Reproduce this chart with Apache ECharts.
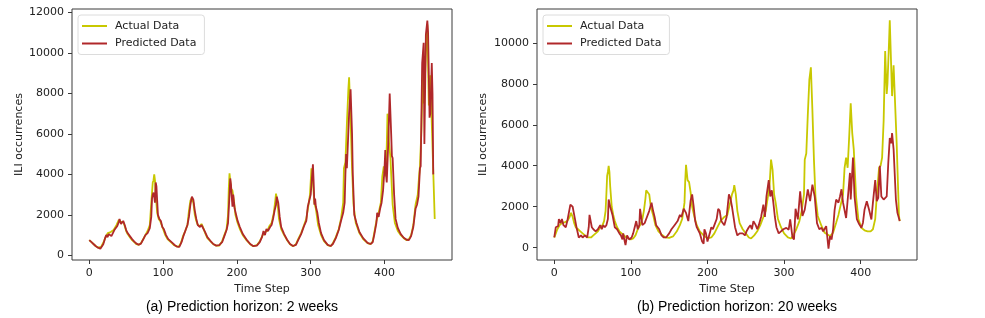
<!DOCTYPE html>
<html>
<head>
<meta charset="utf-8">
<script src="https://cdn.jsdelivr.net/npm/echarts@6/dist/echarts.min.js"></script>
<style>
html,body{margin:0;padding:0;background:#fff;}
#chart{width:985px;height:318px;}
</style>
</head>
<body>
<div id="chart"></div>
<script>
// ---------- data ----------
const seriesNames = ['Actual Data', 'Predicted Data'];
const captions = ['(a) Prediction horizon: 2 weeks', '(b) Prediction horizon: 20 weeks'];
const xAxisTitle = 'Time Step';
const yAxisTitle = 'ILI occurrences';
const xTicks = [0, 100, 200, 300, 400];
const yTicks2w = [0, 2000, 4000, 6000, 8000, 10000, 12000];
const yTicks20w = [0, 2000, 4000, 6000, 8000, 10000];

// [time step, ILI occurrences]
const actual2w = [[0,750],[3,650],[6,550],[9,450],[12,380],[14,350],[16,420],[18,500],[20,700],[22,900],[25,1100],[27,1050],[29,1150],[31,1100],[33,1250],[35,1300],[37,1500],[40,1750],[42,1650],[44,1600],[46,1650],[48,1450],[50,1200],[52,1050],[55,900],[58,750],[61,650],[64,550],[67,520],[70,600],[73,800],[76,1000],[79,1200],[82,1500],[84,2600],[86,3600],[87,3700],[88,4000],[89,3700],[90,3000],[92,2100],[94,1800],[96,1700],[98,1500],[100,1300],[103,1000],[106,800],[109,700],[112,600],[115,500],[118,450],[121,420],[124,600],[127,950],[130,1200],[133,1500],[135,2200],[137,2700],[139,2850],[141,2600],[143,2000],[145,1700],[147,1500],[150,1450],[152,1550],[154,1400],[157,1100],[160,850],[164,700],[168,550],[172,480],[176,480],[180,700],[183,1000],[186,1300],[188,2000],[189,3300],[190,4050],[192,3300],[194,3200],[196,2700],[198,2000],[201,1600],[204,1300],[208,1000],[213,750],[218,550],[222,450],[227,500],[231,700],[235,1000],[238,1150],[241,1200],[244,1450],[247,1600],[250,2100],[252,2700],[253,3050],[255,2600],[257,1800],[260,1300],[264,1000],[268,750],[272,550],[276,450],[280,550],[283,800],[287,1100],[291,1500],[294,1800],[297,2500],[299,3000],[301,4300],[303,3600],[305,2600],[307,2300],[310,1500],[314,1000],[318,700],[323,500],[327,450],[330,600],[334,900],[338,1300],[341,1800],[344,2600],[345,4300],[347,4600],[349,6500],[351,8200],[352,8800],[354,6700],[356,4300],[358,2500],[361,1600],[366,1100],[371,800],[377,600],[381,550],[384,700],[386,1100],[389,1700],[392,2100],[395,2600],[397,3900],[399,4400],[401,3900],[403,5400],[404,7000],[406,5600],[408,4800],[411,2500],[414,1600],[418,1200],[422,1000],[426,850],[430,750],[433,800],[436,1000],[439,1500],[442,2500],[445,3000],[447,4000],[448,4400],[450,6200],[452,9600],[453,7500],[455,9000],[456,10000],[458,11400],[460,7400],[462,8900],[463,8900],[468,1800]];

const predicted2w = [[0,750],[3,650],[6,550],[9,450],[12,380],[15,330],[17,400],[19,550],[21,800],[23,1000],[25,900],[26,1050],[28,1000],[30,950],[32,1100],[34,1250],[36,1350],[38,1450],[40,1650],[41,1800],[43,1550],[45,1500],[46,1700],[48,1500],[50,1250],[52,1100],[55,950],[58,800],[61,680],[64,580],[67,520],[70,580],[73,780],[76,1000],[79,1100],[82,1350],[84,1900],[85,2800],[86,3000],[87,3100],[88,2900],[89,2600],[90,3600],[91,3400],[92,2700],[93,2000],[95,1800],[97,1700],[99,1400],[101,1300],[104,1000],[107,800],[110,700],[113,600],[116,500],[119,430],[122,420],[125,650],[128,1000],[131,1300],[133,1500],[135,1900],[137,2500],[139,2900],[141,2750],[143,2200],[145,1800],[147,1500],[150,1400],[152,1500],[154,1500],[157,1150],[160,900],[164,720],[168,560],[172,480],[176,500],[180,650],[183,950],[186,1250],[188,1600],[190,3000],[191,3800],[192,3500],[193,2900],[194,2400],[195,3000],[196,2600],[197,2300],[199,2000],[201,1700],[204,1400],[208,1050],[213,780],[218,560],[222,460],[227,480],[231,650],[234,900],[236,1200],[238,1000],[240,1300],[242,1200],[245,1400],[247,1500],[249,1800],[251,2200],[253,2500],[254,2900],[256,2600],[258,1900],[260,1400],[264,1050],[268,770],[272,560],[276,460],[280,520],[283,750],[287,1050],[291,1450],[294,1700],[296,2400],[298,2700],[300,3000],[301,3500],[302,4000],[303,4500],[304,3600],[305,2500],[306,2800],[307,2400],[309,2100],[311,1600],[314,1100],[318,750],[323,520],[327,460],[330,560],[334,850],[338,1250],[341,1700],[344,2100],[346,2600],[347,4000],[348,5000],[349,4300],[350,5200],[352,7000],[354,8200],[356,6000],[357,4000],[359,2000],[362,1600],[366,1150],[371,850],[377,620],[381,560],[384,650],[386,1000],[389,1600],[390,2100],[392,1900],[394,2300],[396,2600],[398,3200],[400,4300],[401,5200],[402,4000],[403,3600],[405,5500],[407,8000],[409,6000],[410,4900],[411,4800],[413,3000],[415,1800],[418,1350],[422,1050],[426,870],[430,770],[433,750],[436,950],[439,1400],[442,2300],[444,2500],[446,2900],[448,4300],[449,4400],[451,9500],[453,10500],[454,5500],[456,10900],[458,11600],[459,11000],[461,6800],[462,7000],[464,9500],[465,8000],[466,4000]];

const actual20w = [[0,500],[2,700],[4,900],[7,1100],[10,1200],[12,1150],[14,1250],[17,1300],[20,1500],[22,1700],[24,1500],[26,1200],[28,1000],[31,900],[34,800],[37,700],[40,600],[44,500],[48,500],[51,600],[54,700],[57,800],[60,1000],[63,1100],[65,1300],[67,1800],[68,2600],[69,3500],[70,3700],[71,4000],[72,3700],[73,3000],[75,2000],[77,1600],[79,1300],[82,1000],[85,800],[88,700],[91,600],[94,500],[97,450],[100,400],[103,450],[106,600],[109,900],[112,1100],[115,1400],[117,1800],[119,2400],[120,2800],[122,2850],[124,2600],[126,2000],[129,1600],[132,1100],[136,800],[140,650],[145,500],[150,480],[155,550],[160,800],[164,1100],[167,1400],[170,2200],[171,3300],[172,4050],[174,3300],[176,3200],[178,2700],[180,2000],[183,1500],[186,1100],[190,800],[195,600],[200,450],[205,500],[209,700],[213,1000],[217,1300],[222,1500],[226,1600],[229,2100],[232,2600],[234,2800],[235,3050],[237,2600],[239,1800],[242,1200],[246,900],[250,700],[254,500],[257,450],[261,600],[265,800],[269,1100],[273,1500],[276,1800],[279,2500],[281,3000],[283,4300],[285,3800],[287,2600],[289,2200],[292,1400],[296,1000],[300,700],[305,500],[309,450],[312,600],[316,900],[320,1300],[323,1800],[326,2600],[327,4300],[329,4600],[331,6500],[333,8200],[335,8800],[337,6700],[339,4300],[341,2500],[344,1550],[349,1050],[353,730],[360,570],[364,730],[368,1220],[371,1600],[374,2100],[377,2600],[379,3900],[381,4400],[383,3900],[385,5400],[387,7050],[389,5600],[391,4800],[394,2500],[397,1400],[401,970],[405,850],[409,800],[413,800],[416,900],[419,1400],[421,2500],[424,3900],[426,4000],[428,4400],[430,6200],[432,9600],[434,7500],[435,8000],[437,10000],[438,11100],[441,7400],[443,8900],[447,5100],[450,1550],[451,1300]];

const predicted20w = [[0,500],[2,1000],[5,1050],[6,1400],[8,1200],[10,1400],[12,1100],[15,1000],[17,1300],[19,1700],[21,2100],[24,2000],[26,1600],[29,1000],[32,500],[35,600],[37,500],[40,600],[43,500],[45,1000],[46,1600],[49,1000],[51,900],[54,800],[57,900],[60,1100],[62,900],[64,1100],[66,1000],[68,1100],[70,1400],[71,2350],[73,2000],[76,1600],[79,1000],[82,900],[85,700],[87,600],[89,400],[90,700],[92,300],[93,130],[95,600],[98,400],[101,500],[103,700],[105,1000],[107,1300],[109,900],[111,1100],[112,1900],[115,1100],[118,1200],[121,1500],[124,1800],[127,2200],[129,1800],[131,1500],[133,1100],[137,900],[140,600],[143,500],[146,500],[150,700],[153,900],[157,1100],[161,1300],[164,1600],[166,1500],[169,1900],[172,1700],[175,1300],[178,2300],[180,2600],[182,2000],[184,1300],[186,1000],[190,700],[193,300],[195,200],[196,900],[198,700],[200,300],[203,700],[205,1000],[207,900],[209,1100],[212,1400],[214,1900],[216,1800],[218,1300],[220,1300],[222,1100],[225,1500],[228,2600],[230,2400],[232,2000],[234,1500],[236,1000],[239,600],[242,700],[246,700],[249,600],[251,800],[254,1000],[256,1100],[258,900],[260,1300],[263,1100],[265,900],[267,1100],[270,1500],[273,2100],[275,1500],[277,2500],[280,3300],[282,2500],[284,2800],[286,2200],[288,1500],[290,1000],[293,700],[296,800],[299,900],[303,970],[306,880],[308,1380],[311,500],[313,400],[315,1900],[318,1380],[321,2750],[324,1550],[327,1860],[331,2850],[334,2270],[337,3080],[340,2500],[343,1200],[346,900],[349,970],[351,800],[355,1050],[358,-50],[360,570],[362,400],[364,900],[366,1850],[368,2350],[371,2200],[373,2500],[375,2850],[377,2200],[381,1450],[384,2750],[386,3650],[387,2350],[390,4400],[392,2500],[395,1400],[398,1150],[401,970],[403,1220],[405,1850],[408,2270],[411,1850],[414,1380],[416,2200],[419,3300],[421,2270],[423,2430],[425,4000],[427,2500],[430,2350],[434,2500],[436,4100],[438,5350],[440,5100],[441,5600],[443,4800],[446,2350],[448,1700],[451,1300]];

// ---------- styling ----------
const ACTUAL_COLOR = '#c8c800';
const PRED_COLOR = '#b0282a';
const FRAME = '#3a3a3a';
const TXT = '#222222';
const FONT = 'DejaVu Sans';
const plainNumber = function (v) { return String(v); };

function xAxisCfg(gi, min, max) {
  return {
    type: 'value', gridIndex: gi, min: min, max: max,
    splitLine: { show: false },
    axisLine: { show: false, onZero: false },
    axisTick: { show: true, customValues: xTicks, length: 4, lineStyle: { color: FRAME, width: 1 } },
    axisLabel: { customValues: xTicks, formatter: plainNumber, margin: 8, color: TXT, fontFamily: FONT, fontSize: 11 },
    name: xAxisTitle, nameLocation: 'middle', nameGap: 22,
    nameTextStyle: { color: TXT, fontFamily: FONT, fontSize: 11 }
  };
}
function yAxisCfg(gi, min, max, ticks, gap) {
  return {
    type: 'value', gridIndex: gi, min: min, max: max,
    splitLine: { show: false },
    axisLine: { show: false, onZero: false },
    axisTick: { show: true, customValues: ticks, length: 4, lineStyle: { color: FRAME, width: 1 } },
    axisLabel: { customValues: ticks, formatter: plainNumber, margin: 8, color: TXT, fontFamily: FONT, fontSize: 11 },
    name: yAxisTitle, nameLocation: 'middle', nameGap: gap, nameRotate: 90,
    nameTextStyle: { color: TXT, fontFamily: FONT, fontSize: 11 }
  };
}
function legendCfg(left) {
  return {
    left: left, top: 15, orient: 'vertical',
    data: seriesNames,
    icon: 'rect', itemWidth: 25, itemHeight: 2, itemGap: 3.5,
    padding: [4, 8, 4, 4],
    borderColor: '#dcdcdc', borderWidth: 1, borderRadius: 3, backgroundColor: '#fff',
    textStyle: { color: TXT, fontFamily: FONT, fontSize: 11, lineHeight: 14, padding: [0, 0, 0, 3] }
  };
}
function lineSeries(name, data, gi, color) {
  return {
    type: 'line', name: name, data: data, xAxisIndex: gi, yAxisIndex: gi,
    symbol: 'none', showSymbol: false, animation: false,
    lineStyle: { color: color, width: 1.8 }, itemStyle: { color: color }
  };
}

const chart = echarts.init(document.getElementById('chart'), null, { renderer: 'canvas' });
chart.setOption({
  animation: false,
  backgroundColor: '#ffffff',
  grid: [
    { left: 72, right: 533, top: 9, bottom: 58, show: true, borderColor: FRAME, borderWidth: 1, backgroundColor: 'transparent' },
    { left: 537, right: 68, top: 9, bottom: 58, show: true, borderColor: FRAME, borderWidth: 1, backgroundColor: 'transparent' }
  ],
  xAxis: [xAxisCfg(0, -23.4, 491.4), xAxisCfg(1, -22.55, 473.55)],
  yAxis: [yAxisCfg(0, -230, 12170, yTicks2w, 46), yAxisCfg(1, -600, 11650, yTicks20w, 48)],
  legend: [legendCfg(78), legendCfg(543)],
  series: [
    lineSeries(seriesNames[0], actual2w, 0, ACTUAL_COLOR),
    lineSeries(seriesNames[1], predicted2w, 0, PRED_COLOR),
    lineSeries(seriesNames[0], actual20w, 1, ACTUAL_COLOR),
    lineSeries(seriesNames[1], predicted20w, 1, PRED_COLOR)
  ],
  graphic: [
    { type: 'text', x: 242, y: 307, style: { text: captions[0], textAlign: 'center', textVerticalAlign: 'middle', fill: '#000', fontFamily: 'Liberation Sans', fontSize: 14 } },
    { type: 'text', x: 737, y: 307, style: { text: captions[1], textAlign: 'center', textVerticalAlign: 'middle', fill: '#000', fontFamily: 'Liberation Sans', fontSize: 14 } }
  ]
});
</script>
</body>
</html>
